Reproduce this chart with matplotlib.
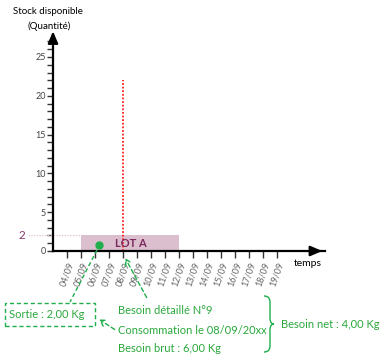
import matplotlib
matplotlib.use("Agg")
import matplotlib.pyplot as plt
from matplotlib.patches import Rectangle, FancyArrowPatch
from matplotlib.path import Path
from matplotlib.patches import PathPatch

plt.rcParams['font.family'] = ['Lato', 'DejaVu Sans']

# ---- data ----
dates = ["04/09", "05/09", "06/09", "07/09", "08/09", "09/09", "10/09", "11/09",
         "12/09", "13/09", "14/09", "15/09", "16/09", "17/09", "18/09", "19/09"]
day_pos = list(range(4, 20))
y_major = [0, 5, 10, 15, 20, 25]
lot_start, lot_end, lot_qty = 5, 12, 2
lot_label = "LOT A"
need_day, need_top = 8, 22
sortie_day, sortie_qty = 6.3, 0.8
stock_level = 2

W, H = 383, 361
fig = plt.figure(figsize=(W / 100, H / 100), dpi=100)

def fx(x):
    return x / W

def fy(y):
    return 1 - y / H

ax_l, ax_r, ax_b, ax_t = 53, 325, 251, 35
ax = fig.add_axes([fx(ax_l), fy(ax_b), fx(ax_r - ax_l), (ax_b - ax_t) / H])
ax.set_xlim(3, 3 + (ax_r - ax_l) / 14.0)
ax.set_ylim(0, (ax_b - ax_t) / 7.76)
ax.patch.set_alpha(0)
for s in ["top", "right"]:
    ax.spines[s].set_visible(False)
for s in ["left", "bottom"]:
    ax.spines[s].set_linewidth(1.6)
    ax.spines[s].set_color("black")

ax.set_yticks(y_major)
ax.set_yticks(range(0, 28), minor=True)
ax.tick_params(axis="y", which="both", length=4, width=1, color="#333333",
               labelsize=6.5, labelcolor="#444444", pad=1)
ax.set_xticks(day_pos)
ax.set_xticklabels(dates, rotation=70, ha="right", rotation_mode="anchor",
                   fontsize=6.5, color="#666666")
ax.tick_params(axis="x", length=5, width=1, color="#333333", pad=2)

# arrows at axis ends
ax.annotate("", xy=(0, 1.03), xytext=(0, 0.95), xycoords="axes fraction",
            arrowprops=dict(arrowstyle="-|>,head_length=0.7,head_width=0.3",
                            color="black", lw=1.6), annotation_clip=False)
ax.annotate("", xy=(1.0, 0), xytext=(0.95, 0), xycoords="axes fraction",
            arrowprops=dict(arrowstyle="-|>,head_length=0.7,head_width=0.3",
                            color="black", lw=1.6), annotation_clip=False)

# lot rectangle
ax.add_patch(Rectangle((lot_start, 0), lot_end - lot_start, lot_qty,
                       facecolor="#dcbfcf", edgecolor="none", zorder=1))
ax.text((lot_start + lot_end) / 2 + 0.05, lot_qty / 2, lot_label, ha="center",
        va="center", fontsize=8, fontweight="bold", color="#7a2a5e", zorder=3)

# stock level guide
ax.plot([1.2, lot_start], [stock_level, stock_level], color="#e8c8d6",
        lw=1, ls=(0, (1, 1)), clip_on=False)
ax.text(1.0, stock_level, str(stock_level), ha="right", va="center",
        fontsize=8.5, color="#8b3a6b", clip_on=False)

# need line
ax.plot([need_day, need_day], [0, need_top], color="#ff2020", lw=1.3,
        ls=(0, (1, 1)), zorder=2)

# sortie point
ax.plot([sortie_day], [sortie_qty], "o", color="#1fae4b", ms=5, zorder=4)

green = "#1fae4b"
tgreen = "#2aa83c"

# figure-level annotations
fig.text(fx(13), fy(11), "Stock disponible", ha="left", va="center", fontsize=7)
fig.text(fx(49), fy(26), "(Quantité)", ha="center", va="center", fontsize=7)
fig.text(fx(294), fy(263), "temps", ha="left", va="center", fontsize=7.5)

# sortie box
box = Rectangle((fx(5), fy(326)), fx(90), (326 - 303) / H, transform=fig.transFigure,
                fill=False, edgecolor=green, lw=1, ls=(0, (3, 2)))
fig.add_artist(box)
fig.text(fx(9), fy(315), "Sortie : 2,00 Kg", ha="left", va="center",
         fontsize=8, color=tgreen)

# dashed connector dot -> box
fig.add_artist(plt.Line2D([fx(97), fx(70)], [fy(250), fy(302)], transform=fig.transFigure,
                          color=green, lw=1, ls=(0, (3, 2))))

# arrows
for (x0, y0, x1, y1) in [(148, 300, 124, 256), (117, 331, 97, 318)]:
    fig.add_artist(FancyArrowPatch((fx(x0), fy(y0)), (fx(x1), fy(y1)),
                                   transform=fig.transFigure,
                                   arrowstyle="->,head_length=4,head_width=2.5",
                                   color=green, lw=1, ls=(0, (3, 2)),
                                   mutation_scale=1))

lines = ["Besoin détaillé N°9", "Consommation le 08/09/20xx", "Besoin brut : 6,00 Kg"]
for i, t in enumerate(lines):
    fig.text(fx(118), fy(311 + 19 * i), t, ha="left", va="center", fontsize=8,
             color=tgreen)

# brace
verts = [(fx(264), fy(296)), (fx(270), fy(296)), (fx(270), fy(302)),
         (fx(270), fy(318)),
         (fx(270), fy(324)), (fx(274), fy(324)),
         (fx(270), fy(324)), (fx(270), fy(330)),
         (fx(270), fy(346)),
         (fx(270), fy(352)), (fx(264), fy(352))]
codes = [Path.MOVETO, Path.CURVE3, Path.CURVE3, Path.LINETO,
         Path.CURVE3, Path.CURVE3, Path.CURVE3, Path.CURVE3,
         Path.LINETO, Path.CURVE3, Path.CURVE3]
fig.add_artist(PathPatch(Path(verts, codes), transform=fig.transFigure,
                         fill=False, edgecolor=green, lw=1))
fig.text(fx(281), fy(324), "Besoin net : 4,00 Kg", ha="left", va="center",
         fontsize=8, color=tgreen)

fig.savefig("out.png", dpi=100)
